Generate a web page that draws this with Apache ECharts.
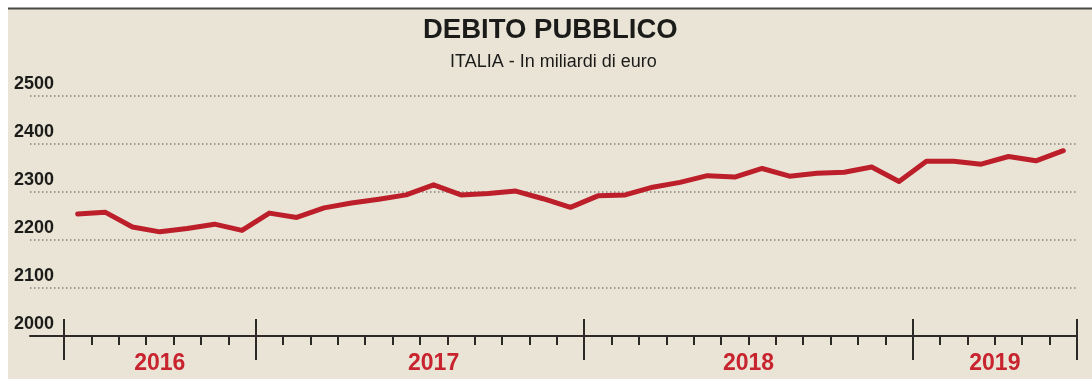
<!DOCTYPE html>
<html>
<head>
<meta charset="utf-8">
<script src="https://cdn.jsdelivr.net/npm/echarts@6/dist/echarts.min.js"></script>
<style>
html,body{margin:0;padding:0;background:#fff;}
#chart{width:1092px;height:379px;}
</style>
</head>
<body>
<div id="chart"></div>
<script>
// ---- data ----
const months = [
  '2016-06','2016-07','2016-08','2016-09','2016-10','2016-11','2016-12',
  '2017-01','2017-02','2017-03','2017-04','2017-05','2017-06','2017-07','2017-08','2017-09','2017-10','2017-11','2017-12',
  '2018-01','2018-02','2018-03','2018-04','2018-05','2018-06','2018-07','2018-08','2018-09','2018-10','2018-11','2018-12',
  '2019-01','2019-02','2019-03','2019-04','2019-05','2019-06'
];
const debt = [
  2254, 2258, 2227, 2217, 2224, 2233, 2220,
  2256, 2247, 2267, 2277, 2285, 2294, 2315, 2294, 2297, 2302, 2286, 2268,
  2292, 2294, 2310, 2320, 2334, 2331, 2349, 2333, 2339, 2341, 2352, 2322,
  2364, 2364, 2358, 2374, 2365, 2386
];
const years = ['2016', '2017', '2018', '2019'];
const yMin = 2000, yMax = 2500, yStep = 100;
const titleText = 'DEBITO PUBBLICO';
const subtitleText = 'ITALIA - In miliardi di euro';

// year boundaries (month index where each year starts, plus end)
const yearStarts = [];
months.forEach((m, i) => { if (i === 0 || m.slice(0, 4) !== months[i - 1].slice(0, 4)) yearStarts.push(i); });
const yearBounds = yearStarts.concat([months.length]);
const yearLabelPos = [3.5, 13.5, 25, 34];

const chart = echarts.init(document.getElementById('chart'), null, {renderer: 'canvas'});
const axisColor = '#2b2a26';
const font = "'Liberation Sans', Arial, sans-serif";
const option = {
  animation: false,
  backgroundColor: '#e9e4d6',
  textStyle: {fontFamily: font},
  title: [
    {text: titleText, left: 423, top: 16, padding: 0,
     textStyle: {fontSize: 27.5, fontWeight: 'bold', color: '#1b1b19', fontFamily: font}},
    {text: subtitleText, left: 450, top: 53, padding: 0,
     textStyle: {fontSize: 18, fontWeight: 'normal', color: '#1b1b19', fontFamily: font}}
  ],
  graphic: [
    {type: 'rect', shape: {x: 0, y: 0, width: 1092, height: 8}, style: {fill: '#ffffff'}, silent: true},
    {type: 'rect', shape: {x: 0, y: 0, width: 8, height: 379}, style: {fill: '#ffffff'}, silent: true},
    {type: 'line', shape: {x1: 8, y1: 8.5, x2: 1092, y2: 8.5}, style: {stroke: '#4a4843', lineWidth: 2}, silent: true}
  ],
  grid: [
    {left: 30, right: 15, top: 96, bottom: 43},
    {left: 64, right: 15, top: 96, bottom: 43}
  ],
  xAxis: [
    {gridIndex: 0, type: 'value', position: 'bottom', min: 0, max: 1, show: true,
     axisLine: {show: true, lineStyle: {color: axisColor, width: 2}},
     axisTick: {show: false}, axisLabel: {show: false}, splitLine: {show: false}},
    {gridIndex: 1, type: 'category', position: 'bottom', data: months, boundaryGap: true,
     axisLine: {show: false},
     axisTick: {show: true, interval: 0, length: 9, lineStyle: {color: axisColor, width: 2}},
     axisLabel: {show: false}, splitLine: {show: false}},
    {gridIndex: 1, type: 'value', position: 'bottom', min: 0, max: months.length,
     axisLine: {show: false},
     axisTick: {show: true, customValues: yearBounds, length: 24, lineStyle: {color: axisColor, width: 2}},
     axisLabel: {show: true, customValues: yearLabelPos, margin: 16,
       formatter: (v) => { const i = yearLabelPos.indexOf(v); return i >= 0 ? years[i] : ''; },
       color: '#c8242f', fontSize: 23, fontWeight: 'bold', fontFamily: font},
     splitLine: {show: false}},
    {gridIndex: 1, type: 'value', position: 'bottom', min: 0, max: months.length,
     axisLine: {show: false},
     axisTick: {show: true, inside: true, customValues: yearBounds, length: 17, lineStyle: {color: axisColor, width: 2}},
     axisLabel: {show: false}, splitLine: {show: false}}
  ],
  yAxis: [
    {gridIndex: 0, type: 'value', min: yMin, max: yMax, interval: yStep,
     axisLine: {show: false}, axisTick: {show: false},
     axisLabel: {show: true, margin: 16, align: 'left', verticalAlign: 'bottom', lineHeight: 18, padding: [0, 0, 3, 0],
       formatter: (v) => String(v),
       color: '#1b1b19', fontSize: 18, fontWeight: 'bold', fontFamily: font},
     splitLine: {show: true, lineStyle: {color: '#85837b', width: 1.5, type: [1.5, 2.5]}}},
    {gridIndex: 1, type: 'value', min: yMin, max: yMax, interval: yStep, show: false}
  ],
  series: [
    {type: 'line', xAxisIndex: 1, yAxisIndex: 1, data: debt, showSymbol: false, symbol: 'none',
     lineStyle: {color: '#bd1f2a', width: 5, join: 'round', cap: 'round'}, z: 5}
  ]
};
chart.setOption(option);
</script>
</body>
</html>
